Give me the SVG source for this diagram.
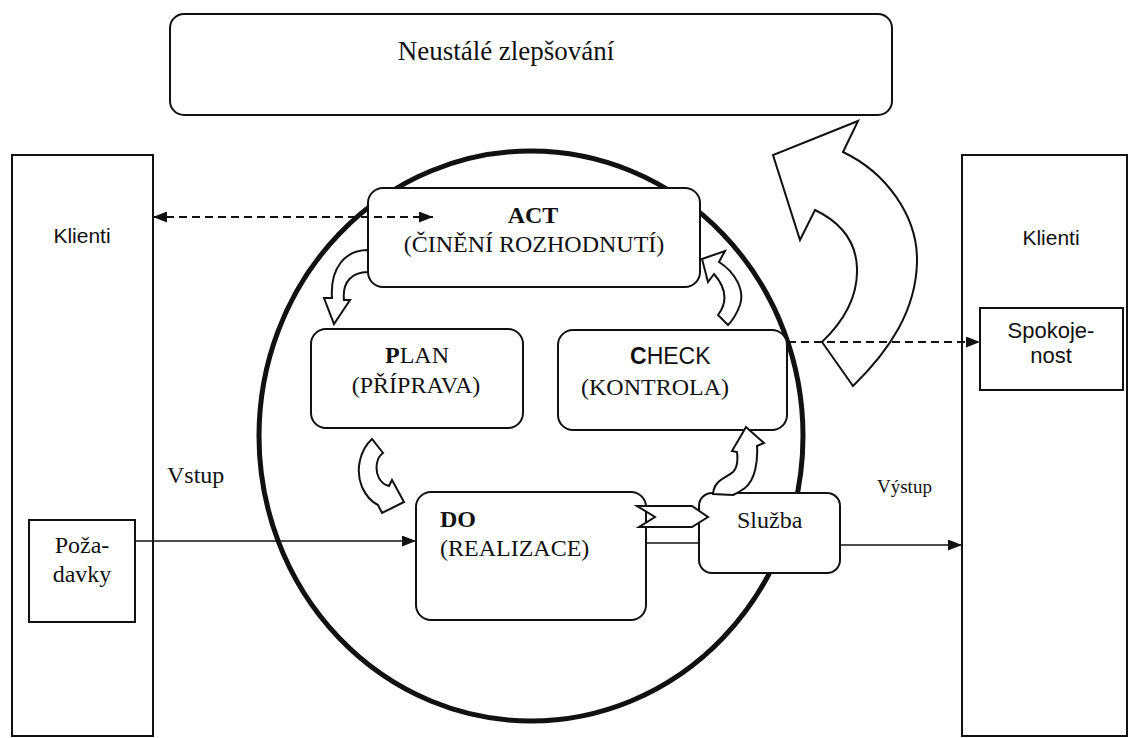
<svg xmlns="http://www.w3.org/2000/svg" width="1129" height="738" viewBox="0 0 1129 738">
<style>
.box{fill:#fff;stroke:#111;stroke-width:2}
.blk{fill:#fff;stroke:#111;stroke-width:2;stroke-linejoin:miter}
.ser{font-family:"Liberation Serif","Times New Roman",serif;fill:#111}
.san{font-family:"Liberation Sans",Arial,sans-serif;fill:#111}
.ln{fill:none;stroke:#111;stroke-width:1.6}
.dash{fill:none;stroke:#111;stroke-width:1.8;stroke-dasharray:8 5}
.b{font-weight:bold}
</style>
<defs>
<marker id="ah" viewBox="0 0 14 11" refX="14" refY="5.5" markerWidth="14" markerHeight="11" markerUnits="userSpaceOnUse" orient="auto-start-reverse">
<path d="M0,0 L14,5.5 L0,11 z" fill="#111"/>
</marker>
</defs>

<g id="top">
<rect class="box" x="170" y="14" width="722" height="101" rx="14"/>
<text class="ser" x="506" y="60" font-size="27" text-anchor="middle">Neustálé zlepšování</text>
</g>

<g id="klienti-left">
<rect class="box" x="12" y="155" width="141" height="581"/>
<text class="san" x="82" y="243" font-size="21" text-anchor="middle">Klienti</text>
</g>
<g id="pozadavky">
<rect class="box" x="29" y="520" width="106" height="102"/>
<text class="ser" x="82" y="553" font-size="24" text-anchor="middle">Poža-</text>
<text class="ser" x="82" y="582" font-size="24" text-anchor="middle">davky</text>
</g>

<g id="klienti-right">
<rect class="box" x="962" y="155" width="165" height="581"/>
<text class="san" x="1051" y="245" font-size="21" text-anchor="middle">Klienti</text>
</g>
<g id="spokojenost">
<rect class="box" x="980" y="308" width="143" height="82"/>
<text class="san" x="1051" y="338" font-size="22" text-anchor="middle">Spokoje-</text>
<text class="san" x="1051" y="363" font-size="22" text-anchor="middle">nost</text>
</g>

<g id="cycle">
<ellipse cx="531" cy="436" rx="272" ry="285" fill="none" stroke="#111" stroke-width="5"/>
</g>

<g id="big-arrow">
<path class="blk" d="M858,121 L843,152 C885,172 918,215 917,262 C916,310 890,350 853,386 L822,342 C845,320 858,295 857,268 C856,240 840,222 815,210 L800,240 L773,155 Z"/>
</g>

<g id="act">
<rect class="box" x="368" y="188" width="332" height="99" rx="15"/>
<text class="ser b" x="533" y="223" font-size="24" text-anchor="middle">ACT</text>
<text class="ser" x="534" y="252" font-size="24" text-anchor="middle">(ČINĚNÍ ROZHODNUTÍ)</text>
</g>

<g id="plan">
<rect class="box" x="311" y="329" width="212" height="99" rx="15"/>
<text class="ser" x="417" y="363" font-size="24" text-anchor="middle"><tspan class="b">P</tspan>LAN</text>
<text class="ser" x="416" y="393" font-size="24" text-anchor="middle">(PŘÍPRAVA)</text>
</g>

<g id="check">
<rect class="box" x="558" y="330" width="229" height="100" rx="15"/>
<text class="san" x="630" y="364" font-size="23"><tspan class="b">C</tspan>HECK</text>
<text class="ser" x="655" y="395" font-size="24" text-anchor="middle">(KONTROLA)</text>
</g>

<g id="do">
<rect class="box" x="416" y="492" width="230" height="128" rx="15"/>
<text class="ser b" x="440" y="527" font-size="24">DO</text>
<text class="ser" x="440" y="556" font-size="24">(REALIZACE)</text>
</g>

<g id="sluzba">
<rect class="box" x="699" y="493" width="141" height="80" rx="13"/>
<text class="ser" x="737" y="528" font-size="24">Služba</text>
</g>

<g id="cycle-arrows">
<path class="blk" d="M368,250 C345,250 330,268 332,298 L324,298 L334,324 L350,300 L344,300 C342,282 352,272 368,272 Z"/>
<path class="blk" d="M372,439 C360,450 355,470 362,487 C366,496 372,502 378,505 L382,513 L404,502 L392,480 L389,486 C380,484 375,474 377,463 C378,458 380,455 383,453 Z"/>
<path class="blk" d="M702,259 L725,251 L719,262 C735,272 745,290 740,305 C737,313 733,320 728,325 L718,315 C727,303 728,290 714,274 L708,282 Z"/>
<path class="blk" d="M713,494 C714,480 726,478 733,472 C738,467 738,460 737,452 L732,451 L746,427 L764,443 L757,446 C758,462 755,480 745,488 C741,491 737,493 733,495 Z"/>
<polygon class="blk" points="637,506 692,506 708,517 692,527 639,527 655,517"/>
</g>

<g id="connectors">
<line class="dash" x1="153" y1="217" x2="433" y2="217" marker-start="url(#ah)" marker-end="url(#ah)"/>
<line class="dash" x1="788" y1="342" x2="980" y2="342" marker-end="url(#ah)"/>
<line class="ln" x1="135" y1="541" x2="416" y2="541" marker-end="url(#ah)"/>
<line class="ln" x1="646" y1="543" x2="699" y2="543"/>
<line class="ln" x1="840" y1="545" x2="962" y2="545" marker-end="url(#ah)"/>
</g>

<g id="labels">
<text class="ser" x="167" y="483" font-size="24">Vstup</text>
<text class="ser" x="877" y="493" font-size="19">Výstup</text>
</g>
</svg>
